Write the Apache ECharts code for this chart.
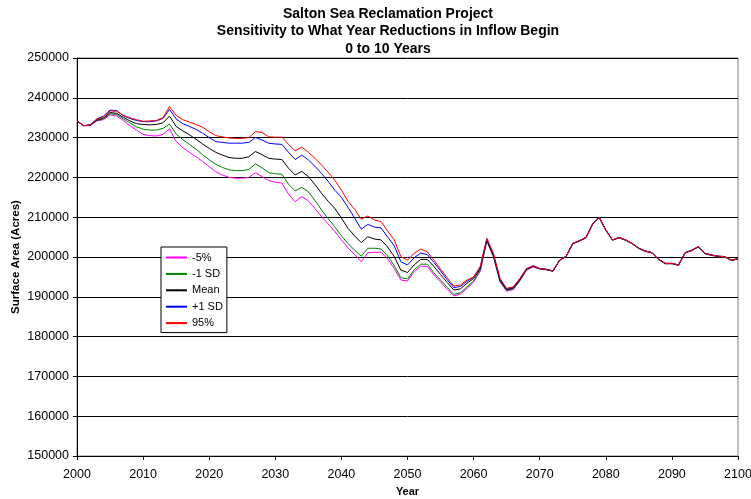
<!DOCTYPE html>
<html>
<head>
<meta charset="utf-8">
<script src="https://cdn.jsdelivr.net/npm/echarts@6/dist/echarts.min.js"></script>
<style>
html,body{margin:0;padding:0;background:#fff;}
#chart{width:751px;height:499px;}
</style>
</head>
<body>
<div id="chart"></div>
<script>
const years = [
2000,2001,2002,2003,2004,2005,2006,2007,2008,2009,
2010,2011,2012,2013,2014,2015,2016,2017,2018,2019,
2020,2021,2022,2023,2024,2025,2026,2027,2028,2029,
2030,2031,2032,2033,2034,2035,2036,2037,2038,2039,
2040,2041,2042,2043,2044,2045,2046,2047,2048,2049,
2050,2051,2052,2053,2054,2055,2056,2057,2058,2059,
2060,2061,2062,2063,2064,2065,2066,2067,2068,2069,
2070,2071,2072,2073,2074,2075,2076,2077,2078,2079,
2080,2081,2082,2083,2084,2085,2086,2087,2088,2089,
2090,2091,2092,2093,2094,2095,2096,2097,2098,2099,
2100];

const seriesNames = ['-5%', '-1 SD', 'Mean', '+1 SD', '95%'];

const minus5 = [
234200,233000,233000,234200,234500,235700,235400,234300,233000,231900,
230800,230500,230400,230800,232200,229000,227500,226300,225200,224000,
222700,221400,220600,220000,219800,219800,220000,221200,220200,219200,
218800,218600,215800,213900,215200,214100,212200,210100,208300,206400,
204300,202300,200600,198800,201100,201200,201200,199500,197100,194200,
194000,196300,197700,197600,195500,193700,191900,190200,190700,192100,
193700,196400,204000,200000,193700,191400,191800,194000,196700,197500,
197000,196800,196400,199100,200100,203300,204000,204800,208200,209900,
206700,204200,204800,204200,203300,202100,201400,201000,199300,198300,
198300,197900,201000,201600,202500,200800,200400,200100,200000,199100,
199500];

const minus1sd = [
234200,233000,233100,234300,234700,236000,235800,234700,233700,232700,
232100,231900,231900,232300,233400,230900,229500,228300,227100,225700,
224400,223300,222500,221900,221700,221700,222000,223400,222400,221200,
220900,220800,218300,216600,217500,216400,214200,211800,209600,207600,
205300,203400,201700,200200,202200,202200,202000,200300,197800,194800,
194500,196800,198200,198200,196000,194200,192400,190600,191000,192500,
194000,196700,204100,200200,193900,191600,192000,194100,196800,197600,
197000,196800,196400,199100,200100,203300,204000,204800,208200,209900,
206700,204200,204800,204200,203300,202100,201400,201000,199300,198300,
198300,197900,201000,201600,202500,200800,200400,200100,200000,199100,
199500];

const mean = [
234200,233000,233100,234400,234900,236300,236100,235100,234200,233500,
233300,233200,233300,233700,235400,232800,231700,230700,229600,228400,
227300,226300,225600,225000,224800,224800,225200,226500,225700,224800,
224600,224500,222300,220600,221500,220200,218200,216000,214000,212200,
209800,207200,205300,203600,205100,204500,204300,202500,200100,196700,
196100,198000,199400,199400,197600,195600,193600,191700,192000,193400,
194600,197000,204300,200400,194100,191800,192200,194300,196900,197700,
197100,196900,196500,199200,200200,203400,204100,204900,208300,210000,
206800,204300,204900,204300,203400,202200,201500,201100,199400,198400,
198400,198000,201100,201700,202600,200900,200500,200200,200100,199200,
199600];

const plus1sd = [
234200,233000,233200,234700,235400,236900,236800,235500,234800,234300,
234000,234000,234200,234800,237100,234700,233500,232800,232100,231100,
230000,229000,228800,228600,228600,228600,228800,230000,229400,228600,
228400,228300,226300,224500,225600,224400,222800,221000,219000,216800,
215000,212500,209800,207000,208200,207500,207300,205000,202800,198800,
198000,199800,201000,200600,198600,196500,194300,192300,192600,193900,
194900,197400,204600,200700,194400,192000,192400,194500,197000,197800,
197100,196900,196500,199200,200200,203400,204100,204900,208300,210000,
206800,204300,204900,204300,203400,202200,201500,201100,199400,198400,
198400,198000,201100,201700,202600,200900,200500,200200,200100,199200,
199600];

const p95 = [
234200,233000,233200,234600,235200,236700,236600,235600,235000,234500,
234100,234200,234300,235000,237800,235600,234500,233900,233300,232600,
231500,230500,230200,229900,229800,229800,230000,231500,231300,230200,
230100,230100,228300,226700,227600,226300,224800,223100,221300,219300,
216800,214000,212000,209500,210300,209300,208900,206500,204300,200100,
199200,200900,202000,201300,199200,197000,194800,192700,193000,194200,
195000,197600,204700,200900,194600,192100,192500,194600,197100,197800,
197100,196900,196500,199200,200200,203400,204100,204900,208300,210000,
206800,204300,204900,204300,203400,202200,201500,201100,199400,198400,
198400,198000,201100,201700,202600,200900,200500,200200,200100,199200,
199600];

const xTicks = [2000,2010,2020,2030,2040,2050,2060,2070,2080,2090,2100];
const yTicks = [150000,160000,170000,180000,190000,200000,210000,220000,230000,240000,250000];

const seriesValues = [minus5, minus1sd, mean, plus1sd, p95];
const seriesColors = ['#FF00FF', '#008000', '#000000', '#0000FF', '#FF0000'];

const FONT = 'Liberation Sans, Arial, sans-serif';

const chart = echarts.init(document.getElementById('chart'), null, {renderer: 'canvas'});

const option = {
  animation: false,
  backgroundColor: '#ffffff',
  title: {
    text: 'Salton Sea Reclamation Project\nSensitivity to What Year Reductions in Inflow Begin\n0 to 10 Years',
    left: 383,
    top: 0,
    textAlign: 'center',
    textStyle: {fontFamily: FONT, fontSize: 14, fontWeight: 'bold', lineHeight: 17.5, color: '#000'}
  },
  legend: {
    orient: 'vertical',
    left: 161,
    top: 247,
    data: seriesNames,
    backgroundColor: '#ffffff',
    borderColor: '#000000',
    borderWidth: 1,
    borderRadius: 0,
    padding: [4, 4, 3, 4],
    itemWidth: 21,
    itemHeight: 2,
    itemGap: 3.4,
    textStyle: {fontFamily: FONT, fontSize: 11, color: '#000', lineHeight: 13}
  },
  grid: {
    left: 77, right: 13, top: 58, bottom: 43,
    outerBoundsMode: 'none',
    containLabel: false,
    show: true, borderColor: '#808080', borderWidth: 1, backgroundColor: 'transparent'
  },
  xAxis: {
    type: 'value',
    min: xTicks[0], max: xTicks[xTicks.length - 1], interval: 10,
    name: 'Year', nameLocation: 'middle', nameGap: 30, nameMoveOverlap: false,
    nameTextStyle: {fontFamily: FONT, fontSize: 11, fontWeight: 'bold', color: '#000'},
    axisLine: {show: true, lineStyle: {color: '#000', width: 1}},
    axisTick: {show: true, length: 4, lineStyle: {color: '#000'}},
    axisLabel: {fontFamily: FONT, fontSize: 12.5, color: '#000', margin: 12, formatter: v => String(v)},
    splitLine: {show: false}
  },
  yAxis: {
    type: 'value',
    min: yTicks[0], max: yTicks[yTicks.length - 1], interval: 10000,
    name: 'Surface Area (Acres)', nameLocation: 'middle', nameGap: 55, nameRotate: 90, nameMoveOverlap: false,
    nameTextStyle: {fontFamily: FONT, fontSize: 11.5, fontWeight: 'bold', color: '#000'},
    axisLine: {show: true, lineStyle: {color: '#000', width: 1}},
    axisTick: {show: true, length: 4, lineStyle: {color: '#000'}},
    axisLabel: {fontFamily: FONT, fontSize: 12.5, color: '#000', margin: 8, formatter: v => String(v)},
    splitLine: {show: true, lineStyle: {color: '#000', width: 1}}
  },
  series: seriesNames.map((name, i) => ({
    name: name,
    type: 'line',
    symbol: 'none',
    z: 2 + i,
    lineStyle: {color: seriesColors[i], width: 1},
    itemStyle: {color: seriesColors[i]},
    data: years.map((yr, j) => [yr, seriesValues[i][j]])
  }))
};

chart.setOption(option);
</script>
</body>
</html>
